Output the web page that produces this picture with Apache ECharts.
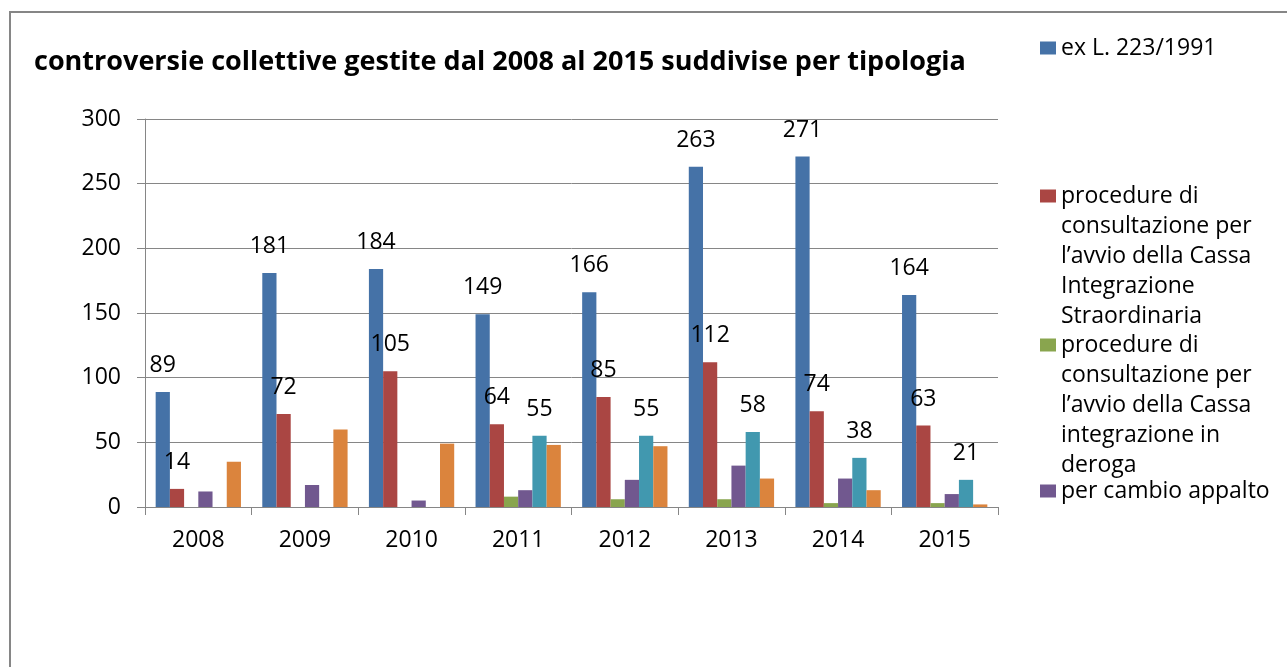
<!DOCTYPE html>
<html>
<head>
<meta charset="utf-8">
<script src="https://cdn.jsdelivr.net/npm/echarts@6/dist/echarts.min.js"></script>
<style>
  html, body { margin: 0; padding: 0; background: #fff; }
  #main { width: 1287px; height: 667px; }
</style>
</head>
<body>
<div id="main"></div>
<script>
// dati
const anni = ["2008", "2009", "2010", "2011", "2012", "2013", "2014", "2015"];
const exLegge = [89, 181, 184, 149, 166, 263, 271, 164];
const cigs = [14, 72, 105, 64, 85, 112, 74, 63];
const deroga = [0, 0, 0, 8, 6, 6, 3, 3];
const cambioAppalto = [12, 17, 5, 13, 21, 32, 22, 10];
const serie5 = [0, 0, 0, 55, 55, 58, 38, 21];
const serie6 = [35, 60, 49, 48, 47, 22, 13, 2];
const yTicks = [0, 50, 100, 150, 200, 250, 300];

const nomi = [
  "ex L. 223/1991",
  "procedure di\nconsultazione per\nl\u2019avvio della Cassa\nIntegrazione\nStraordinaria",
  "procedure di\nconsultazione per\nl\u2019avvio della Cassa\nintegrazione in\nderoga",
  "per cambio appalto",
  "serie 5",
  "serie 6"
];
const colori = ["#4572A7", "#AA4643", "#89A54E", "#71588F", "#4198AF", "#DB843D"];

const FONT = "'Open Sans', 'DejaVu Sans', sans-serif";
const LH = 30;

const myChart = echarts.init(document.getElementById("main"));

function etichetta(show) {
  return {
    show: show,
    position: "top",
    distance: 15,
    color: "#000",
    fontFamily: FONT,
    fontSize: 23,
    formatter: function (p) { return p.value > 0 ? p.value : ""; }
  };
}

// la legenda di Excel mette il quadratino sulla prima riga del testo:
// si aggiungono righe vuote sopra così la prima riga resta al centro
function legenda(nome, centro) {
  const righe = nome.split("\n").length;
  const testo = "\n".repeat(righe - 1) + nome;
  const alto = (2 * righe - 1) * LH;
  return {
    data: [{ name: nome }],
    formatter: function () { return testo; },
    left: 1040,
    top: centro - alto / 2,
    padding: 0,
    orient: "vertical",
    icon: "rect",
    itemWidth: 16,
    itemHeight: 13,
    selectedMode: false,
    textStyle: {
      fontFamily: FONT,
      fontSize: 23,
      color: "#000",
      lineHeight: LH
    }
  };
}

const dati = [exLegge, cigs, deroga, cambioAppalto, serie5, serie6];
const conEtichetta = [true, true, false, false, true, false];

myChart.setOption({
  animation: false,
  textStyle: { fontFamily: FONT },
  title: {
    text: "controversie collettive gestite dal 2008 al 2015 suddivise per tipologia",
    left: 34,
    top: 49,
    padding: 0,
    textStyle: { fontFamily: FONT, fontSize: 27, fontWeight: "bold", color: "#000" }
  },
  legend: [
    legenda(nomi[0], 48),
    legenda(nomi[1], 196),
    legenda(nomi[2], 345),
    legenda(nomi[3], 491)
  ],
  graphic: [
    {
      type: "polyline",
      shape: { points: [[10, 667], [10, 12], [1287, 12]] },
      style: { stroke: "#868686", lineWidth: 2, fill: null }
    }
  ],
  grid: { left: 145, right: 289, top: 119, bottom: 160 },
  xAxis: {
    type: "category",
    data: anni,
    axisLine: { lineStyle: { color: "#868686", width: 1 } },
    axisTick: { show: true, length: 8, lineStyle: { color: "#868686" } },
    axisLabel: { color: "#000", fontSize: 23, fontFamily: FONT, margin: 22 }
  },
  yAxis: {
    type: "value",
    min: yTicks[0],
    max: yTicks[yTicks.length - 1],
    interval: 50,
    axisLine: { show: true, lineStyle: { color: "#868686" } },
    axisTick: { show: true, length: 8, lineStyle: { color: "#868686" } },
    axisLabel: { color: "#000", fontSize: 23, fontFamily: FONT, margin: 24 },
    splitLine: { lineStyle: { color: "#868686", width: 1 } }
  },
  series: dati.map(function (d, i) {
    return {
      name: nomi[i],
      type: "bar",
      data: d,
      barGap: "0%",
      barCategoryGap: "20%",
      itemStyle: { color: colori[i] },
      label: etichetta(conEtichetta[i])
    };
  })
});
</script>
</body>
</html>
